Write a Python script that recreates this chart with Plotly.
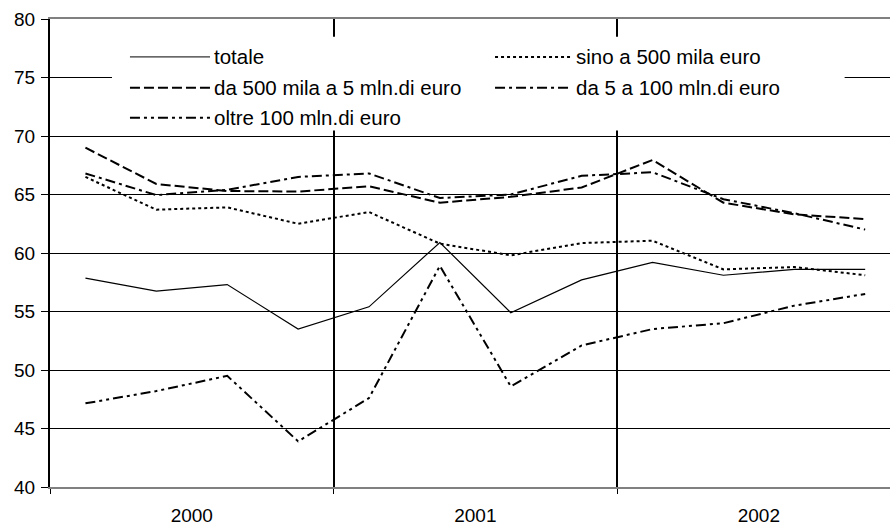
import plotly.graph_objects as go

# ---- data ----
quarters = list(range(12))
year_labels = ["2000", "2001", "2002"]
series_names = [
    "totale",
    "sino a 500 mila euro",
    "da 500 mila a 5 mln.di euro",
    "da 5 a 100 mln.di euro",
    "oltre 100 mln.di euro",
]
totale = [57.85, 56.75, 57.3, 53.5, 55.4, 60.9, 54.9, 57.7, 59.2, 58.1, 58.6, 58.6]
sino_500 = [66.5, 63.7, 63.9, 62.5, 63.5, 60.8, 59.8, 60.85, 61.05, 58.6, 58.8, 58.1]
da500_5mln = [69.0, 65.9, 65.3, 65.25, 65.7, 64.3, 64.8, 65.6, 67.95, 64.3, 63.3, 62.9]
da5_100mln = [66.8, 64.95, 65.4, 66.5, 66.8, 64.7, 65.0, 66.6, 66.9, 64.6, 63.4, 62.0]
oltre100 = [47.15, 48.2, 49.5, 43.9, 47.6, 58.9, 48.6, 52.1, 53.5, 54.0, 55.5, 56.5]

values = [totale, sino_500, da500_5mln, da5_100mln, oltre100]
dashes = ["solid", "3px,3px", "10px,4px", "10px,4px,3px,4px", "10px,4px,3px,4px,3px,4px"]
widths = [1.2, 2, 2, 2, 2]

FONT = "Arial, Liberation Sans, sans-serif"

fig = go.Figure()
for name, v, d, w in zip(series_names, values, dashes, widths):
    fig.add_trace(go.Scatter(
        x=quarters, y=v, mode="lines", name=name,
        line=dict(color="black", dash=d, width=w), showlegend=False,
    ))

# ---- custom legend (box + samples + labels) ----
shapes = [dict(type="rect", xref="paper", yref="paper",
               x0=0.0738, x1=0.946, y0=0.7617, y1=0.962,
               fillcolor="white", line=dict(width=0), layer="above")]
annotations = []
legend_rows = [0.919, 0.853, 0.789]
legend_cols = [(0.0952, 0.1905), (0.5298, 0.6214)]
for i, (name, d, w) in enumerate(zip(series_names, dashes, widths)):
    r, c = divmod(i, 2)
    x0, x1 = legend_cols[c]
    yy = legend_rows[r]
    shapes.append(dict(type="line", xref="paper", yref="paper",
                       x0=x0, x1=x1, y0=yy, y1=yy,
                       line=dict(color="black", dash=d, width=1 if w < 2 else 2),
                       layer="above"))
    annotations.append(dict(xref="paper", yref="paper", x=x1 + 0.002, y=yy,
                            text=name, showarrow=False, xanchor="left",
                            yanchor="middle",
                            font=dict(family=FONT, size=20.5, color="black")))

fig.update_layout(
    width=890, height=526, autosize=False,
    margin=dict(l=50, r=0, t=19, b=37),
    paper_bgcolor="white", plot_bgcolor="white",
    shapes=shapes, annotations=annotations,
    showlegend=False,
)

fig.update_xaxes(
    range=[-0.5, 11.35],
    tickmode="array", tickvals=[1.5, 5.5, 9.5], ticktext=year_labels,
    ticks="", showgrid=False, zeroline=False,
    tickfont=dict(family=FONT, size=19, color="black"),
    ticklabelstandoff=10,
    showline=True, mirror=True, linecolor="#808080", linewidth=2,
    minor=dict(tickmode="array", tickvals=[-0.5, 3.5, 7.5, 11.5],
               showgrid=True, gridcolor="black", gridwidth=2,
               ticks="outside", ticklen=5, tickcolor="black", tickwidth=1),
)
fig.update_yaxes(
    range=[40, 80], tickmode="linear", tick0=40, dtick=5,
    showgrid=True, gridcolor="black", gridwidth=1, zeroline=False,
    showline=True, linecolor="black", linewidth=2,
    ticks="outside", ticklen=7, tickcolor="black", tickwidth=1,
    ticklabelstandoff=2,
    tickfont=dict(family=FONT, size=19, color="black"),
)

fig.write_html("out.html")
